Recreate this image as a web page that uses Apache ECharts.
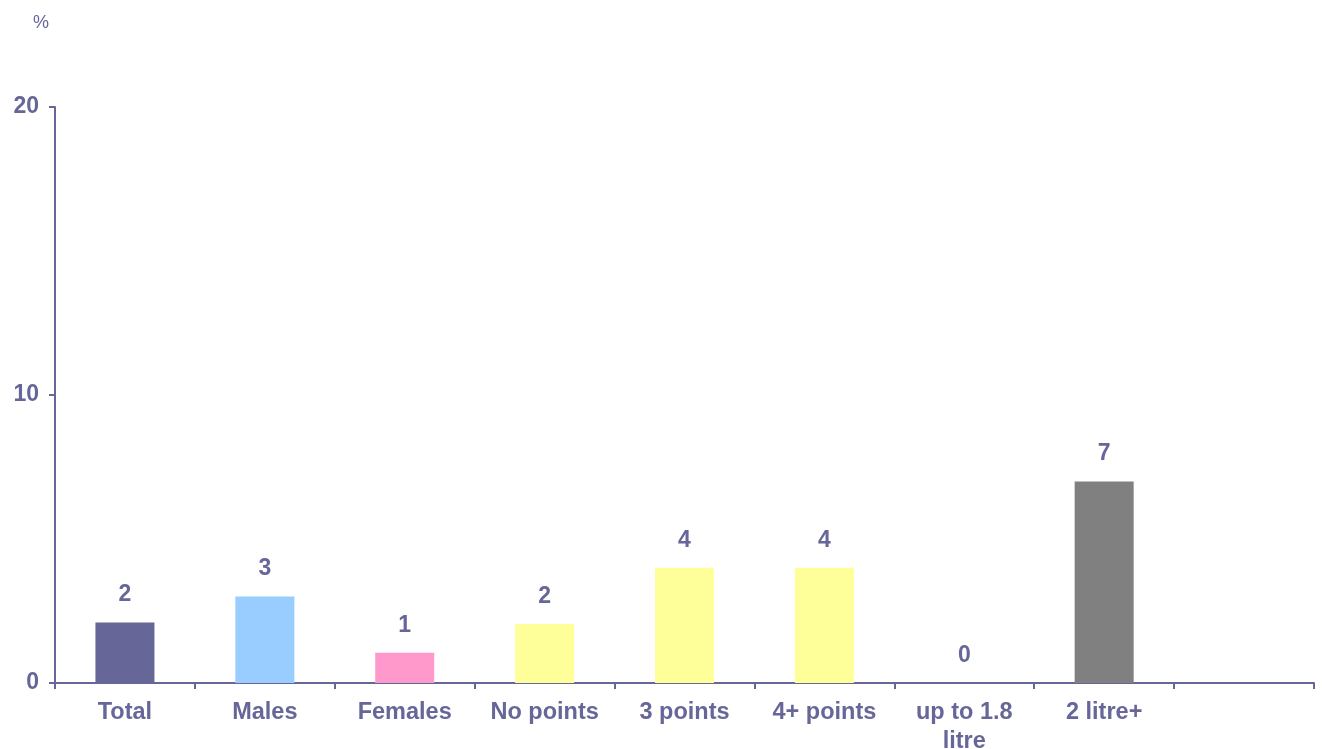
<!DOCTYPE html>
<html>
<head>
<meta charset="utf-8">
<script src="https://cdn.jsdelivr.net/npm/echarts@6/dist/echarts.min.js"></script>
<style>
  html, body { margin: 0; padding: 0; background: #fff; }
  #chart { width: 1322px; height: 749px; }
</style>
</head>
<body>
<div id="chart"></div>
<script>
// categories and values
const categories = ['Total', 'Males', 'Females', 'No points', '3 points', '4+ points', 'up to 1.8\nlitre', '2 litre+', '']
const values = [2.1, 3, 1.05, 2.05, 4, 4, 0, 7, null]
const barColors = ['#666699', '#99ccff', '#ff99cc', '#ffff99', '#ffff99', '#ffff99', '#ffff99', '#808080', '#ffffff']
const yTicks = [0, 10, 20]

const ink = '#666699'
const chart = echarts.init(document.getElementById('chart'))

chart.setOption({
  animation: false,
  textStyle: { fontFamily: 'Liberation Sans, Arial, sans-serif' },
  graphic: [{
    type: 'text',
    left: 33,
    top: 14,
    style: { text: '%', fill: ink, font: '18px Liberation Sans, Arial, sans-serif' }
  }],
  grid: { left: 55, right: 8, top: 107, bottom: 66, outerBoundsMode: 'none', containLabel: false },
  xAxis: {
    type: 'category',
    data: categories,
    axisLine: { lineStyle: { color: ink, width: 2 } },
    axisTick: { show: true, length: 6, lineStyle: { color: ink, width: 2 } },
    axisLabel: {
      color: ink, fontSize: 23.5, fontWeight: 'bold', margin: 15,
      lineHeight: 29, interval: 0
    }
  },
  yAxis: {
    type: 'value',
    min: yTicks[0],
    max: yTicks[yTicks.length - 1],
    interval: 10,
    splitLine: { show: false },
    axisLine: { show: true, lineStyle: { color: ink, width: 2 } },
    axisTick: { show: true, length: 6, lineStyle: { color: ink, width: 2 } },
    axisLabel: { color: ink, fontSize: 23, fontWeight: 'bold', margin: 16 }
  },
  series: [{
    type: 'bar',
    barWidth: 59,
    data: values.map((v, i) => ({ value: v, itemStyle: { color: barColors[i] } })),
    label: {
      show: true,
      position: 'top',
      distance: 16,
      color: ink,
      fontSize: 23,
      fontWeight: 'bold',
      formatter: p => p.value == null ? '' : String(Math.round(p.value))
    }
  }]
})
</script>
</body>
</html>
